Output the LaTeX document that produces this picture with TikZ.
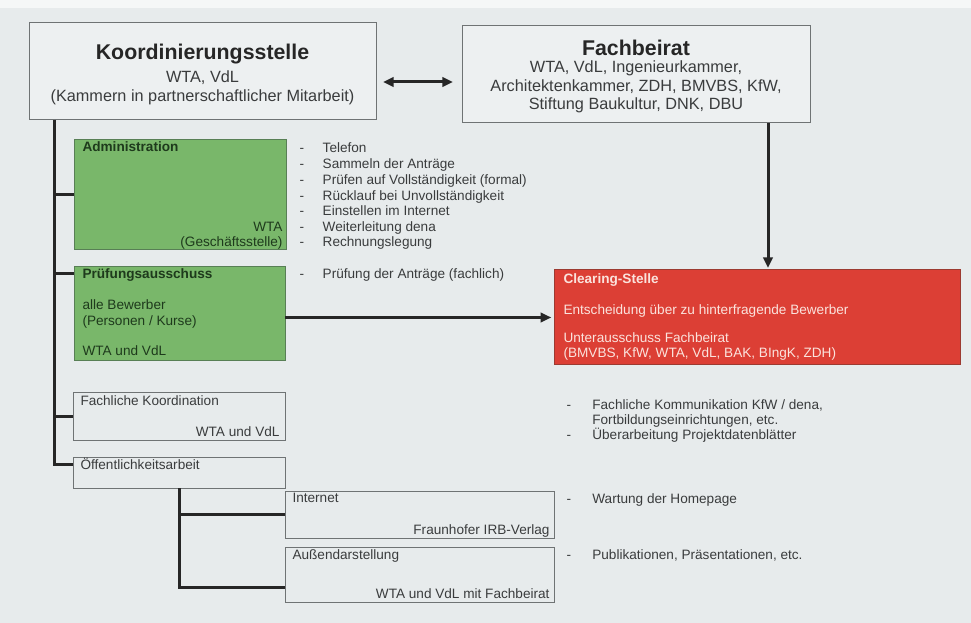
\documentclass[tikz,border=0pt]{standalone}
\usepackage{fontspec}
\setmainfont{Liberation Sans}
\usetikzlibrary{arrows.meta,calc}

\definecolor{bgcol}{HTML}{E7EBEC}
\definecolor{boxfill}{HTML}{EDF0F1}
\definecolor{boxline}{HTML}{6F7374}
\definecolor{greenfill}{HTML}{79B76A}
\definecolor{greenline}{HTML}{587F55}
\definecolor{greentxt}{HTML}{1E3A1C}
\definecolor{redfill}{HTML}{DC3F35}
\definecolor{redline}{HTML}{9C3A31}
\definecolor{redtxt}{HTML}{FBE3DD}
\definecolor{txtcol}{HTML}{3A3C3D}

\tikzset{every picture/.style={line width=0.75pt}}
\tikzset{
	graybox/.style={draw=boxline, fill=boxfill, inner sep=0pt, outer sep=0pt},
	lowbox/.style={draw=boxline, fill=bgcol, inner sep=0pt, outer sep=0pt},
	greenbox/.style={draw=greenline, fill=greenfill, inner sep=0pt, outer sep=0pt},
	redbox/.style={draw=redline, fill=redfill, inner sep=0pt, outer sep=0pt},
	conn/.style={line width=2.25pt, draw=black!85},
	arr/.style={conn, -{Triangle[length=8pt,width=7pt]}},
	bigtitle/.style={font=\fontsize{16}{19}\selectfont\bfseries, text=black!85, inner sep=0pt},
	subtxt/.style={font=\fontsize{12.2}{14}\selectfont, text=txtcol, inner sep=0pt},
	smalltxt/.style={font=\fontsize{10.2}{12}\selectfont, text=txtcol, inner sep=0pt, anchor=mid west},
	listline/.style={smalltxt},
	righttxt/.style={smalltxt, anchor=mid east}
}

\begin{document}
\begin{tikzpicture}[x=0.75pt,y=0.75pt,yscale=-1,xscale=1]
	\useasboundingbox (0,0) rectangle (971,623);
	%Background
	\fill[bgcol] (0,0) rectangle (971,623);
	\fill[white!60!bgcol] (0,0) rectangle (971,8);

	%Shape: Rectangle [id:koord]
	\node[graybox, minimum width=260.25pt, minimum height=72.75pt] (koord) at (202.5,71.5) {};
	%Shape: Rectangle [id:fachbeirat]
	\node[graybox, minimum width=261pt, minimum height=72.75pt] (fachbeirat) at (636,74.5) {};
	%Shape: Rectangle [id:adm]
	\node[greenbox, minimum width=159pt, minimum height=82.5pt] (adm) at (180,195) {};
	%Shape: Rectangle [id:pruef]
	\node[greenbox, minimum width=158.25pt, minimum height=70.5pt] (pruef) at (179.5,314) {};
	%Shape: Rectangle [id:clearing]
	\node[redbox, minimum width=304.5pt, minimum height=71.25pt] (clearing) at (757,317.5) {};
	%Shape: Rectangle [id:fkoord]
	\node[lowbox, minimum width=159pt, minimum height=36pt] (fkoord) at (179,417) {};
	%Shape: Rectangle [id:oeff]
	\node[lowbox, minimum width=159pt, minimum height=23.25pt] (oeff) at (179,472.5) {};
	%Shape: Rectangle [id:inet]
	\node[lowbox, minimum width=201.75pt, minimum height=35.25pt] (inet) at (419.5,514.5) {};
	%Shape: Rectangle [id:aussen]
	\node[lowbox, minimum width=201.75pt, minimum height=41.25pt] (aussen) at (419.5,574.5) {};

	%Connectors
	\coordinate (trunk) at (54,120);
	\coordinate (pb) at ($(pruef.north west)+(0,7)$);
	\coordinate (ob) at ($(oeff.north west)+(0,7)$);
	\coordinate (ab) at ($(aussen.south west)+(0,-15)$);
	\draw[conn] (trunk) |- (ob);
	\draw[conn] (trunk |- adm.west) -- (adm.west);
	\draw[conn] (trunk |- pb) -- (pb);
	\draw[conn] (trunk |- fkoord.west) -- (fkoord.west);
	\draw[conn] (oeff.south) |- (ab);
	\draw[conn] (oeff.south |- inet.west) -- (inet.west);

	%Arrows
	\coordinate (mid) at (418,82);
	\coordinate (fx) at (768,0);
	\draw[arr, {Triangle[length=8pt,width=7pt]}-{Triangle[length=8pt,width=7pt]}, shorten <=5.25pt, shorten >=6.75pt] (koord.east |- mid) -- (fachbeirat.west |- mid);
	\draw[arr, shorten >=1.5pt] (fachbeirat.south -| fx) -- (clearing.north -| fx);
	\draw[arr, shorten >=2pt] (pruef.east |- clearing.west) -- (clearing.west);

	% Text Node
	\node[bigtitle] (koordT) at (202.5,54) {Koordinierungsstelle};
	% Text Node
	\node[subtxt] (koordA) at (202.5,78) {WTA, VdL};
	% Text Node
	\node[subtxt] (koordB) at (202.5,97) {(Kammern in partnerschaftlicher Mitarbeit)};
	% Text Node
	\node[bigtitle] (fachT) at (636,48) {Fachbeirat};
	% Text Node
	\node[subtxt] (fachA) at (636,68) {WTA, VdL, Ingenieurkammer,};
	% Text Node
	\node[subtxt] (fachB) at (636,87) {Architektenkammer, ZDH, BMVBS, KfW,};
	% Text Node
	\node[subtxt] (fachC) at (636,105) {Stiftung Baukultur, DNK, DBU};

	% Text Node
	\node[smalltxt, text=greentxt, font=\fontsize{10.2}{12}\selectfont\bfseries] (admT) at (82,148) {Administration};
	% Text Node
	\node[righttxt, text=greentxt] (admA) at (283,228) {WTA};
	% Text Node
	\node[righttxt, text=greentxt] (admB) at (283,243) {(Geschäftsstelle)};
	% Text Node
	\node[listline] (l1) at (299,149) {-\hspace{14pt}Telefon};
	\node[listline] (l2) at (299,165) {-\hspace{14pt}Sammeln der Anträge};
	\node[listline] (l3) at (299,181) {-\hspace{14pt}Prüfen auf Vollständigkeit (formal)};
	\node[listline] (l4) at (299,197) {-\hspace{14pt}Rücklauf bei Unvollständigkeit};
	\node[listline] (l5) at (299,212) {-\hspace{14pt}Einstellen im Internet};
	\node[listline] (l6) at (299,228) {-\hspace{14pt}Weiterleitung dena};
	\node[listline] (l7) at (299,243) {-\hspace{14pt}Rechnungslegung};

	% Text Node
	\node[smalltxt, text=greentxt, font=\fontsize{10.2}{12}\selectfont\bfseries] (pruefT) at (82,275) {Prüfungsausschuss};
	% Text Node
	\node[smalltxt, text=greentxt] (pruefA) at (82,306) {alle Bewerber};
	\node[smalltxt, text=greentxt] (pruefB) at (82,322) {(Personen / Kurse)};
	\node[smalltxt, text=greentxt] (pruefC) at (82,352) {WTA und VdL};
	% Text Node
	\node[listline] (l8) at (299,275) {-\hspace{14pt}Prüfung der Anträge (fachlich)};

	% Text Node
	\node[smalltxt, text=redtxt, font=\fontsize{10.2}{12}\selectfont\bfseries] (clearT) at (563,280) {Clearing-Stelle};
	\node[smalltxt, text=redtxt] (clearA) at (563,311) {Entscheidung über zu hinterfragende Bewerber};
	\node[smalltxt, text=redtxt] (clearB) at (563,339) {Unterausschuss Fachbeirat};
	\node[smalltxt, text=redtxt] (clearC) at (563,354) {(BMVBS, KfW, WTA, VdL, BAK, BIngK, ZDH)};

	% Text Node
	\node[smalltxt] (fkoordT) at (80,402) {Fachliche Koordination};
	\node[righttxt] (fkoordA) at (280,433) {WTA und VdL};
	\node[listline] (r1) at (566,406) {-\hspace{16pt}Fachliche Kommunikation KfW / dena,};
	\node[listline] (r2) at (566,421) {\phantom{-}\hspace{16pt}Fortbildungseinrichtungen, etc.};
	\node[listline] (r3) at (566,436) {-\hspace{16pt}Überarbeitung Projektdatenblätter};

	% Text Node
	\node[smalltxt] (oeffT) at (80,466) {Öffentlichkeitsarbeit};
	\node[smalltxt] (inetT) at (292,499) {Internet};
	\node[righttxt] (inetA) at (550,531) {Fraunhofer IRB-Verlag};
	\node[listline] (r4) at (566,500) {-\hspace{16pt}Wartung der Homepage};
	\node[smalltxt] (aussenT) at (292,556) {Außendarstellung};
	\node[righttxt] (aussenA) at (550,595) {WTA und VdL mit Fachbeirat};
	\node[listline] (r5) at (566,556) {-\hspace{16pt}Publikationen, Präsentationen, etc.};
\end{tikzpicture}
\end{document}
